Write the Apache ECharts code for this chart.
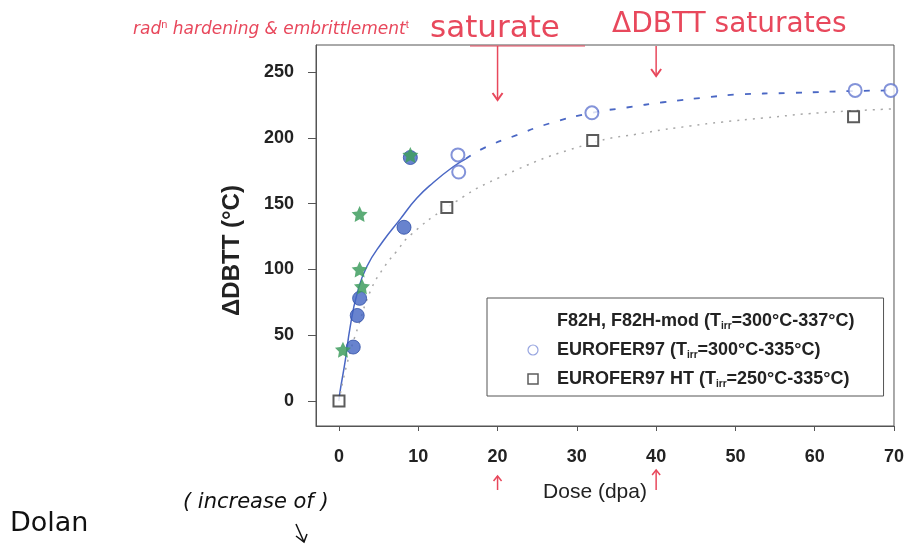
<!DOCTYPE html>
<html>
<head>
<meta charset="utf-8">
<script src="https://cdn.jsdelivr.net/npm/echarts@6/dist/echarts.min.js"></script>
<style>
  html, body { margin: 0; padding: 0; background: #fff; }
</style>
</head>
<body>
<div id="main" style="width: 907px; height: 544px;"></div>
<script>
// tick labels
var xTicks = [0, 10, 20, 30, 40, 50, 60, 70]
var yTicks = [0, 50, 100, 150, 200, 250]

// F82H, F82H-mod : filled blue circles and green stars  [dose, dDBTT]
var f82hCircles = [[1.8, 41], [2.3, 65], [2.6, 78], [8.2, 132], [9.0, 185]]
var f82hStars = [[0.5, 39], [2.6, 142], [2.6, 100], [2.9, 87], [9.0, 187]]
// EUROFER97 open circles
var euroCircles = [[15.0, 187], [15.1, 174], [31.9, 219], [65.1, 236], [69.6, 236]]
// EUROFER97 HT open squares
var euroHTSquares = [[0, 0], [13.6, 147], [32.0, 198], [64.9, 216]]

// fit curves
var fitSolid = [[0, 0], [0.1, 6], [0.8, 31], [1.4, 56], [2.3, 82], [3.5, 102], [5.5, 121],
  [7.7, 138], [9.8, 154], [11.9, 166], [14.4, 178], [16.0, 184]]
var fitDashed = [[16.0, 184], [18.2, 192], [22.4, 202], [26.6, 211], [31.9, 219], [36.3, 223],
  [40.9, 227], [46.8, 231], [50.6, 233], [56.5, 234], [64.8, 235.5], [70, 236]]
var fitHT = [[0, 0], [1, 28], [2.5, 58], [4, 84], [5.5, 100], [7.3, 114], [9, 126], [13.6, 147],
  [20.3, 170], [31.3, 195], [38.8, 204], [44.3, 209], [48.4, 212], [53.5, 215], [60.7, 219], [70, 222]]

// red arrows mark these doses
var markDoses = [20, 40]

var starPath = 'path://M0,-10 L2.9,-4 9.5,-3.1 4.7,1.5 5.9,8.1 0,5 -5.9,8.1 -4.7,1.5 -9.5,-3.1 -2.9,-4Z'
var red = '#e8485c'
var hand = '"DejaVu Sans"'

var chartDom = document.getElementById('main');
var myChart = echarts.init(chartDom);

var legendRich = { sub: { fontSize: 10, fontWeight: 'bold', verticalAlign: 'bottom', padding: [10, 0, 0, 0], color: '#222' } }

var option = {
  animation: false,
  textStyle: { fontFamily: 'Liberation Sans' },
  grid: {
    left: 316, right: 12, top: 45, bottom: 118,
    show: true, borderColor: '#555', borderWidth: 1
  },
  legend: {
    orient: 'vertical',
    left: 487,
    top: 298,
    padding: [14, 29, 7, 40],
    itemGap: 10,
    itemWidth: 10,
    itemHeight: 10,
    borderColor: '#555',
    borderWidth: 1,
    textStyle: { fontSize: 18, color: '#222', fontWeight: 'bold', padding: [0, 0, 0, 14], rich: legendRich },
    formatter: function (name) {
      if (name === 'F82H, F82H-mod') return 'F82H, F82H-mod (T{sub|irr}=300°C-337°C)'
      if (name === 'EUROFER97') return 'EUROFER97 (T{sub|irr}=300°C-335°C)'
      return 'EUROFER97 HT (T{sub|irr}=250°C-335°C)'
    },
    data: [
      { name: 'F82H, F82H-mod', itemStyle: { opacity: 0 } },
      { name: 'EUROFER97', icon: 'circle', itemStyle: { color: '#fff', borderColor: '#7d8ed8', borderWidth: 1.2 } },
      { name: 'EUROFER97 HT', icon: 'rect', itemStyle: { color: '#fff', borderColor: '#333', borderWidth: 1.5 } }
    ]
  },
  xAxis: {
    type: 'value',
    min: -2.9,
    max: 70,
    name: 'Dose (dpa)',
    nameLocation: 'middle',
    nameGap: 56,
    nameTextStyle: { fontSize: 21, color: '#222', padding: [0, 20, 0, 0] },
    axisLine: { show: true, onZero: false, lineStyle: { color: '#555' } },
    axisTick: { show: true, length: 5, customValues: xTicks, lineStyle: { color: '#555' } },
    axisLabel: { customValues: xTicks, margin: 22, fontSize: 18, fontWeight: 'bold', color: '#222' },
    splitLine: { show: false }
  },
  yAxis: {
    type: 'value',
    min: -19,
    max: 270.5,
    name: 'ΔDBTT (°C)',
    nameLocation: 'middle',
    nameGap: 72,
    nameRotate: 90,
    nameTextStyle: { fontSize: 24, fontWeight: 'bold', color: '#222', padding: [0, 30, 0, 0] },
    axisLine: { show: true, onZero: false, lineStyle: { color: '#555' } },
    axisTick: { show: true, length: 8, customValues: yTicks, lineStyle: { color: '#555' } },
    axisLabel: { customValues: yTicks, margin: 22, fontSize: 18, fontWeight: 'bold', color: '#222' },
    splitLine: { show: false }
  },
  series: [
    {
      name: 'fit F82H', type: 'line', data: fitSolid, showSymbol: false, smooth: true,
      lineStyle: { color: '#4a67c4', width: 1.5 }, z: 1
    },
    {
      name: 'fit F82H dashed', type: 'line', data: fitDashed, showSymbol: false, smooth: true,
      lineStyle: { color: '#4a67c4', width: 1.8, type: [6, 11] }, z: 1
    },
    {
      name: 'fit HT', type: 'line', data: fitHT, showSymbol: false, smooth: true,
      lineStyle: { color: '#a8a8a8', width: 1.5, type: [2, 6] }, z: 1
    },
    {
      name: 'F82H, F82H-mod', type: 'scatter', data: f82hCircles, symbol: 'circle', symbolSize: 14,
      itemStyle: { color: '#4264c2', borderColor: '#2f4fa6', borderWidth: 1 }, z: 3
    },
    {
      name: 'F82H, F82H-mod', type: 'scatter', data: f82hStars, symbol: starPath, symbolSize: 16,
      itemStyle: { color: '#3f9d5f', opacity: 0.85 }, z: 4
    },
    {
      name: 'EUROFER97', type: 'scatter', data: euroCircles, symbol: 'emptyCircle', symbolSize: 13,
      itemStyle: { color: '#6478d0', borderWidth: 2 }, z: 5
    },
    {
      name: 'EUROFER97 HT', type: 'scatter', data: euroHTSquares, symbol: 'emptyRect', symbolSize: 11,
      itemStyle: { color: '#333', borderWidth: 1.8 }, z: 5
    }
  ]
};

option && myChart.setOption(option);

// handwritten notes, arrows placed from the axis scale
var ax = markDoses.map(function (d) { return myChart.convertToPixel({ xAxisIndex: 0 }, d) })

function arrowDown(x, y1, y2) {
  return [
    { type: 'line', shape: { x1: x, y1: y1, x2: x, y2: y2 }, style: { stroke: red, lineWidth: 1.5 } },
    { type: 'polyline', shape: { points: [[x - 5, y2 - 7], [x, y2], [x + 5, y2 - 7]] }, style: { stroke: red, lineWidth: 2, fill: null } }
  ]
}
function arrowUp(x, y1, y2) {
  return [
    { type: 'line', shape: { x1: x, y1: y1, x2: x, y2: y2 }, style: { stroke: red, lineWidth: 1.5 } },
    { type: 'polyline', shape: { points: [[x - 4, y1 + 5], [x, y1], [x + 4, y1 + 5]] }, style: { stroke: red, lineWidth: 1.5, fill: null } }
  ]
}

var graphics = [
  {
    type: 'text', left: 133, top: 19,
    style: {
      text: 'rad{sup|n} hardening & embrittlement{sup|t}',
      fill: red, font: 'italic 17px ' + hand,
      rich: { sup: { fontSize: 11, verticalAlign: 'top', padding: [0, 0, 10, 0], fill: red } }
    }
  },
  { type: 'text', left: 430, top: 13, style: { text: 'saturate', fill: red, font: '31px ' + hand } },
  { type: 'line', shape: { x1: 470, y1: 46, x2: 585, y2: 46 }, style: { stroke: red, lineWidth: 1.2 } },
  { type: 'text', left: 612, top: 11, style: { text: 'ΔDBTT saturates', fill: red, font: '28px ' + hand } },
  { type: 'text', left: 183, top: 492, style: { text: '( increase of )', fill: '#111', font: 'italic 21px ' + hand } },
  { type: 'text', left: 10, top: 510, style: { text: 'Dolan', fill: '#111', font: '27px ' + hand } },
  { type: 'line', shape: { x1: 296, y1: 524, x2: 304, y2: 542 }, style: { stroke: '#111', lineWidth: 1.5 } },
  { type: 'polyline', shape: { points: [[296, 536], [304, 542], [307, 534]] }, style: { stroke: '#111', lineWidth: 1.5, fill: null } }
]
graphics = graphics.concat(arrowDown(ax[0], 46, 100), arrowDown(ax[1], 46, 76))
graphics = graphics.concat(arrowUp(ax[0], 476, 490), arrowUp(ax[1], 470, 490))

myChart.setOption({ graphic: graphics });
</script>
</body>
</html>
